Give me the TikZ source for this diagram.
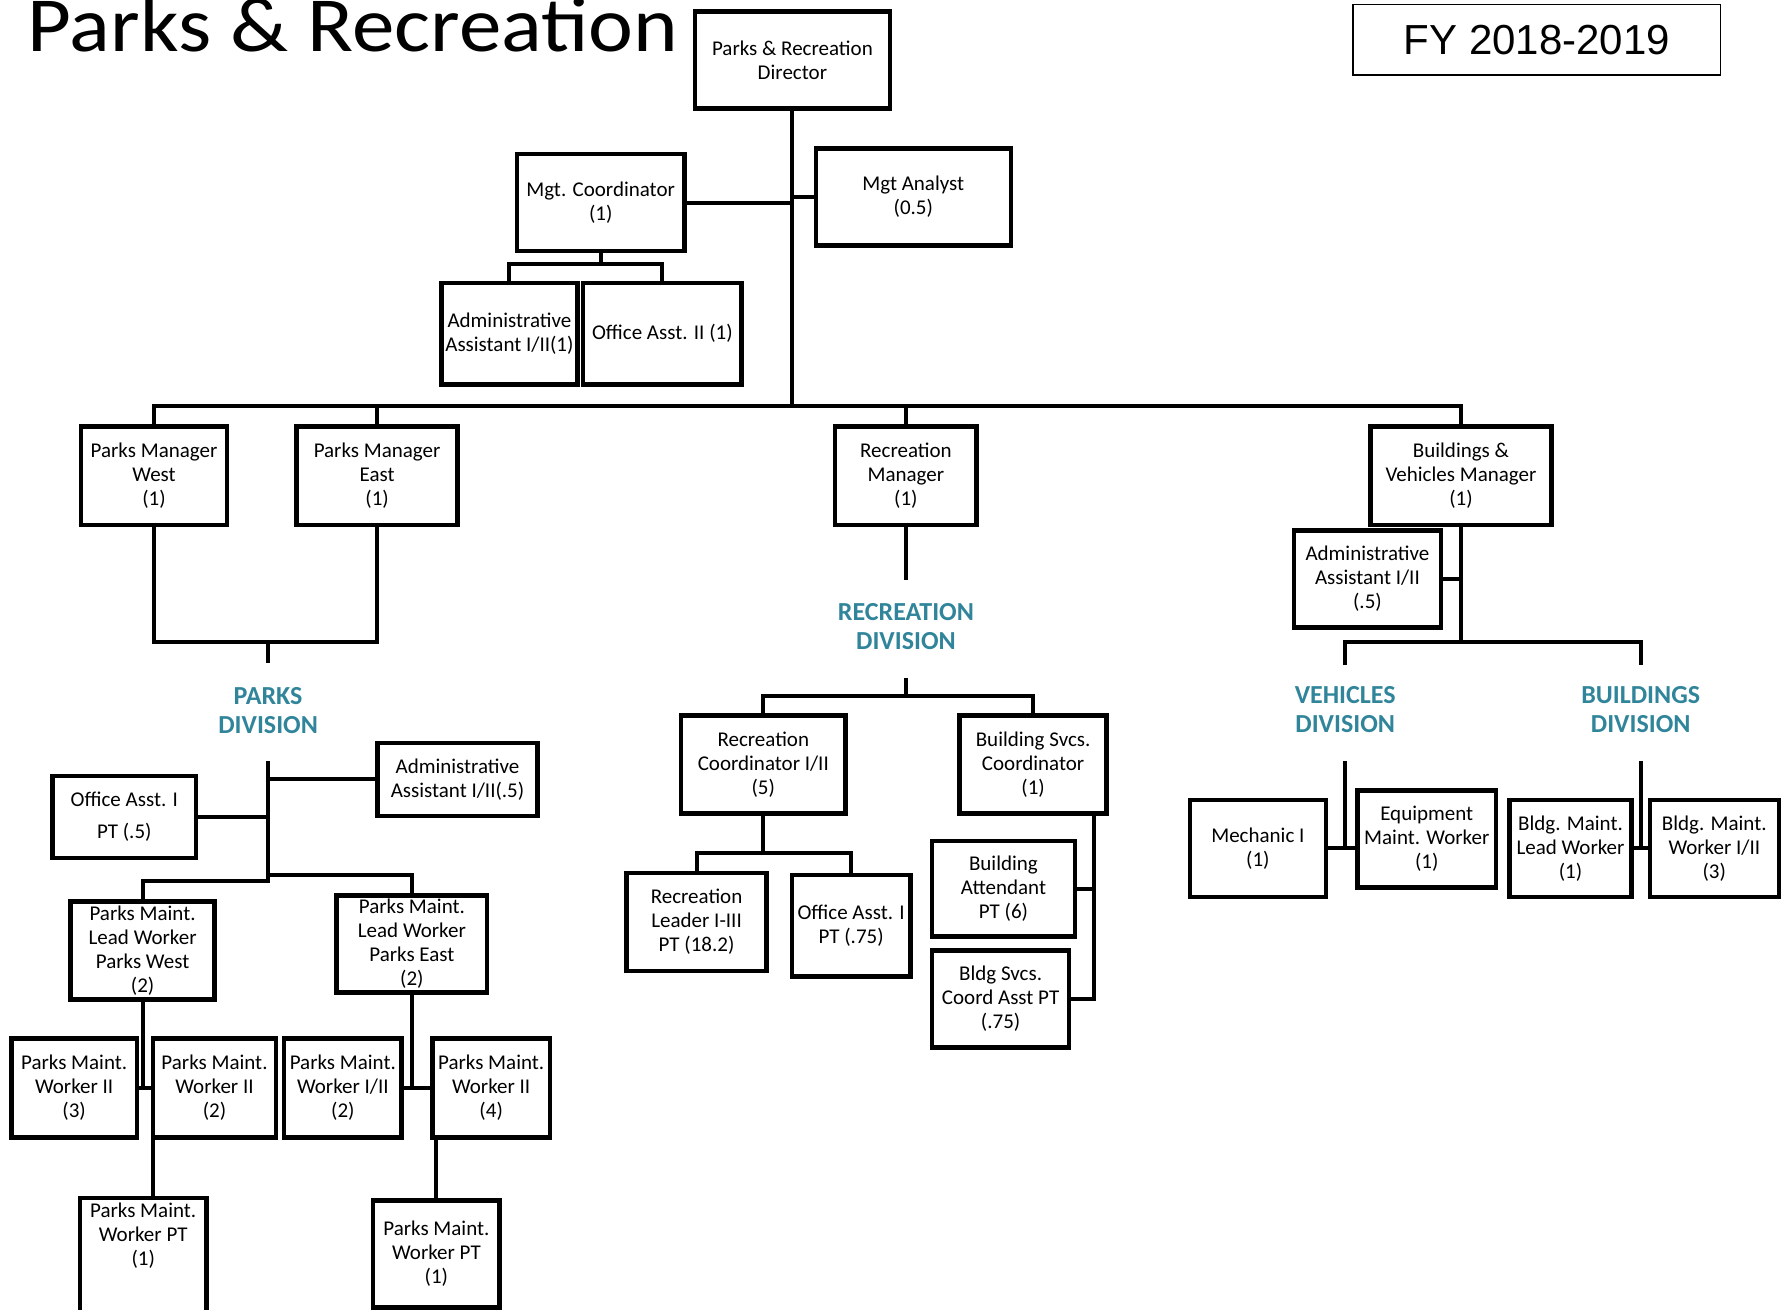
\documentclass[tikz,border=0pt]{standalone}
\usepackage{fontspec}
\setmainfont{Carlito}
\newfontfamily\arialf{Liberation Sans}
\usetikzlibrary{calc}
\definecolor{divteal}{RGB}{49,133,155}
\newcommand\bx[6]{\node[box, minimum width={(#4-#2)*1.141pt}, minimum height={(#5-#3)*1.141pt}] (#1) at ({(#2+#4)/2},{(#3+#5)/2}) {#6};}
\begin{document}
\begin{tikzpicture}[x=1.141pt,y=-1.141pt,
  box/.style={draw, line width=4.5pt, inner sep=0pt, align=center, font=\fontsize{21}{24}\selectfont},
  conn/.style={line width=4pt},
  divlabel/.style={align=center, text=divteal, inner sep=0pt, font=\bfseries\fontsize{26}{29}\selectfont}]
\useasboundingbox (0,0) rectangle (1568,1148);
\clip (0,0) rectangle (1568,1148);
\fill[white] (0,0) rectangle (1568,1148);

\node[anchor=base west, inner sep=0pt, xscale=1.09, font=\fontsize{78}{78}\selectfont] (title) at (24,45) {Parks \& Recreation};
\node[draw, line width=1.8pt, minimum width={322*1.141pt}, minimum height={62*1.141pt}, inner sep=0pt, font=\arialf\fontsize{42}{42}\selectfont] (fy) at (1347,35) {FY 2018-2019};

\bx{dir}{609}{10}{780}{95}{Parks \& Recreation\\Director}
\bx{mgc}{453}{135}{600}{220}{Mgt. Coordinator\\(1)}
\bx{mga}{715}{130}{886}{215}{Mgt Analyst\\(0.5)}
\bx{aa1}{387}{248}{506}{337}{Administrative\\Assistant I/II(1)}
\bx{oa2}{511}{248}{650}{337}{Office Asst. II (1)}
\bx{pmw}{71}{374}{199}{460}{Parks Manager\\West\\(1)}
\bx{pme}{260}{374}{401}{460}{Parks Manager\\East\\(1)}
\bx{rm}{732}{374}{856}{460}{Recreation\\Manager\\(1)}
\bx{bvm}{1201}{374}{1360}{460}{Buildings \&\\Vehicles Manager\\(1)}
\bx{aab}{1134}{465}{1263}{550}{Administrative\\Assistant I/II\\(.5)}
\bx{aap}{331}{651}{471}{715}{Administrative\\Assistant I/II(.5)}
\bx{oa1}{46}{680}{172}{752}{Office Asst. I\\[8pt]PT (.5)}
\bx{lww}{62}{790}{188}{876}{\fontsize{21}{23}\selectfont Parks Maint.\\Lead Worker\\Parks West\\(2)}
\bx{lwe}{295}{785}{427}{870}{\fontsize{21}{23}\selectfont Parks Maint.\\Lead Worker\\Parks East\\(2)}
\bx{w1}{10}{910}{120}{997}{Parks Maint.\\Worker II\\(3)}
\bx{w2}{134}{910}{242}{997}{Parks Maint.\\Worker II\\(2)}
\bx{w3}{249}{910}{352}{997}{Parks Maint.\\Worker I/II\\(2)}
\bx{w4}{379}{910}{482}{997}{Parks Maint.\\Worker II\\(4)}
\bx{ptw}{70}{1050}{181}{1158}{}
\node[align=center, inner sep=0pt, font=\fontsize{21}{24}\selectfont] (ptwt) at (125.5,1083) {Parks Maint.\\Worker PT\\(1)};
\bx{pte}{327}{1052}{438}{1146}{Parks Maint.\\Worker PT\\(1)}
\bx{rc}{597}{627}{741}{713}{Recreation\\Coordinator I/II\\(5)}
\bx{bsc}{841}{627}{970}{713}{Building Svcs.\\Coordinator\\(1)}
\bx{rl}{549}{765}{672}{851}{Recreation\\Leader I-III\\PT (18.2)}
\bx{oa75}{694}{767}{798}{856}{Office Asst. I\\PT (.75)}
\bx{ba}{817}{737}{942}{821}{Building\\Attendant\\PT (6)}
\bx{bsa}{817}{833}{937}{918}{Bldg Svcs.\\Coord Asst PT\\(.75)}
\bx{mech}{1043}{701}{1162}{786}{Mechanic I\\(1)}
\bx{emw}{1190}{693}{1311}{778}{Equipment\\Maint. Worker\\(1)}
\bx{blw}{1323}{701}{1430}{786}{Bldg. Maint.\\Lead Worker\\(1)}
\bx{bw}{1446}{701}{1559}{786}{Bldg. Maint.\\Worker I/II\\(3)}

\node[divlabel] (pdiv) at (235,623) {PARKS\\DIVISION};
\node[divlabel] (rdiv) at (794,549.5) {RECREATION\\DIVISION};
\node[divlabel] (vdiv) at (1179,622) {VEHICLES\\DIVISION};
\node[divlabel] (bdiv) at (1438,622) {BUILDINGS\\DIVISION};

% top
\coordinate (j1) at (694.5,356);
\draw[conn] (dir.south) -- (dir.south |- j1);
\draw[conn] (mgc.east) -- (mgc.east -| dir.south);
\draw[conn] (mga.west) -- (mga.west -| dir.south);
\coordinate (c1) at (526.5,231);
\draw[conn] (mgc.south) -- (mgc.south |- c1);
\draw[conn] (aa1.north) -- (aa1.north |- c1) -- (oa2.north |- c1) -- (oa2.north);
\draw[conn] (pmw.north) -- (pmw.north |- j1) -- (bvm.north |- j1) -- (bvm.north);
\draw[conn] (pme.north) -- (pme.north |- j1);
\draw[conn] (rm.north) -- (rm.north |- j1);

% parks
\coordinate (pj) at (235,563);
\coordinate (pjs) at (235,581);
\draw[conn] (pmw.south) -- (pmw.south |- pj) -- (pme.south |- pj) -- (pme.south);
\draw[conn] (pj) -- (pjs);
\coordinate (pt1) at (235,667);
\coordinate (pt2) at (235,772);
\coordinate (pt3) at (235,767);
\draw[conn] (pt1) -- (pt2) -- (pt2 -| lww.north) -- (lww.north);
\draw[conn] (pt3) -- (pt3 -| lwe.north) -- (lwe.north);
\draw[conn] (aap.west) -- (aap.west -| pt1);
\draw[conn] (oa1.east) -- (oa1.east -| pt1);
\draw[conn] (lww.south) -- (lww.south |- w1.east);
\draw[conn] (w1.east) -- (w2.west);
\draw[conn] ([xshift=2.3pt]w2.south west) -- ([xshift=2.3pt]w2.south west |- ptw.north);
\draw[conn] (lwe.south) -- (lwe.south |- w3.east);
\draw[conn] (w3.east) -- (w4.west);
\draw[conn] (pte.north) -- (pte.north |- w4.south);

% recreation
\coordinate (rj) at (794,508);
\draw[conn] (rm.south) -- (rj);
\coordinate (rs) at (794,594);
\coordinate (rb) at (794,610);
\draw[conn] (rs) -- (rb);
\draw[conn] (rc.north) -- (rc.north |- rb) -- (bsc.north |- rb) -- (bsc.north);
\coordinate (rcj) at (669,748);
\draw[conn] (rc.south) -- (rcj);
\draw[conn] (rl.north) -- (rl.north |- rcj) -- (oa75.north |- rcj) -- (oa75.north);
\coordinate (bst) at ([xshift=-14.8pt]bsc.south east);
\draw[conn] (bst) |- (bsa.east);
\draw[conn] (ba.east) -- (ba.east -| bst);

% buildings & vehicles
\coordinate (bj) at (1280.5,563);
\draw[conn] (bvm.south) -- (bj);
\draw[conn] (aab.east) -- (aab.east -| bj);
\coordinate (vj) at (1179,583);
\coordinate (bdj) at (1438,583);
\draw[conn] (vj) -- (vj |- bj) -- (bdj |- bj) -- (bdj);
\coordinate (vt) at (1179,667);
\draw[conn] (vt) -- (vt |- mech.east);
\draw[conn] (mech.east) -- (mech.east -| emw.west);
\coordinate (bt) at (1438,667);
\draw[conn] (bt) -- (bt |- blw.east);
\draw[conn] (blw.east) -- (bw.west);
\end{tikzpicture}
\end{document}
